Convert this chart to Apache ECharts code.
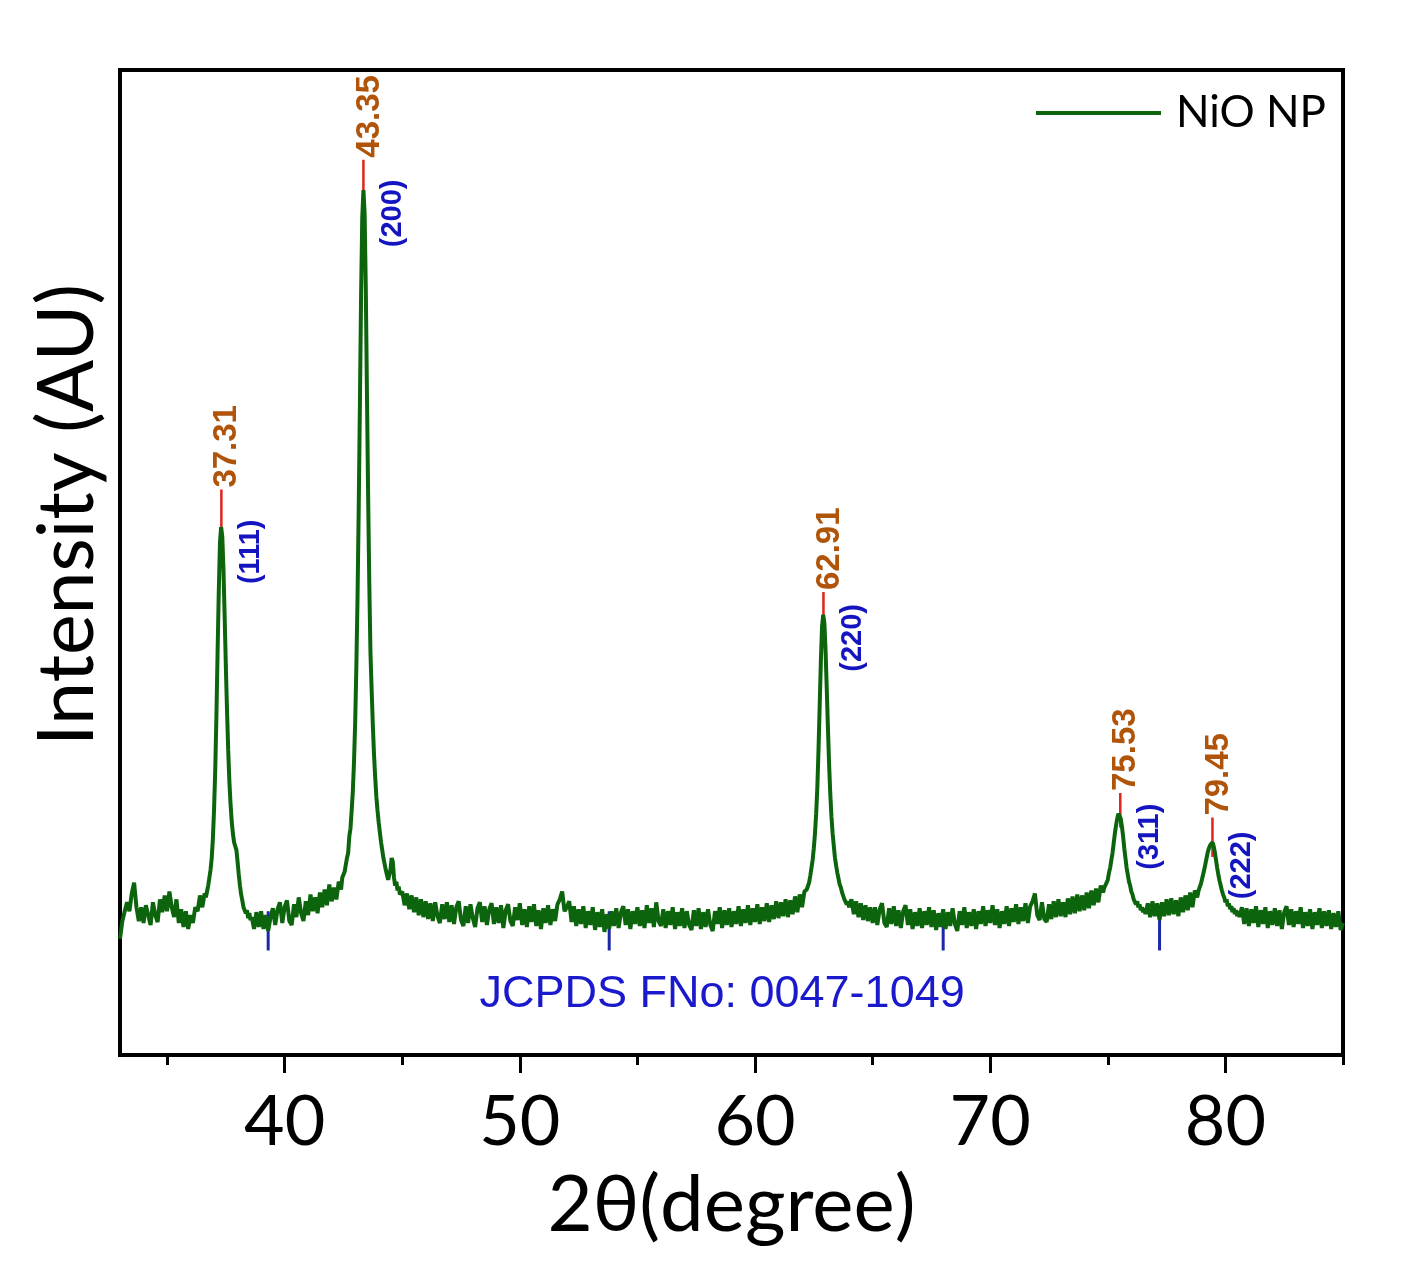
<!DOCTYPE html>
<html lang="en">
  <head>
    <meta charset="UTF-8" />
    <title>NiO NP XRD</title>
    <style>
      body, html {
        margin: 0;
        width: 100%;
        height: 100%;
        background: #fff;
      }
    </style>
  </head>
  <body>
    <div id="main" style="width:1402px;height:1269px;"></div>

    <script src="https://cdn.jsdelivr.net/npm/echarts@6/dist/echarts.min.js"></script>
    <script>
      // scan pieces: intensity (arbitrary units, 0..1000)
      // 33.0 -> 36.6, step 0.1
      const bgA = [118, 136, 146, 155, 146, 164, 175, 150, 136, 150,
        134, 152, 142, 132, 155, 142, 135, 158, 145, 162,
        146, 166, 150, 140, 158, 134, 148, 130, 146, 128,
        142, 134, 150, 146, 162, 150, 164];
      // 36.65 -> 38.55, step 0.05
      const peak111 = [160, 166, 172, 180, 188, 200, 220, 250, 290, 345,
        410, 470, 520, 536, 526, 492, 445, 395, 350, 310,
        278, 255, 237, 225, 216, 214, 208, 196, 183, 172,
        163, 157, 150, 152, 144, 147, 139, 144, 137];
      // 38.6 -> 42.4, step 0.1
      const bgB = [140, 128, 145, 130, 146, 128, 142, 126, 140, 149,
        132, 148, 155, 134, 150, 157, 136, 132, 153, 140,
        160, 144, 136, 156, 142, 163, 146, 160, 144, 165,
        150, 168, 152, 173, 156, 170, 158, 176, 168];
      // 42.45 -> 44.9, step 0.05
      const peak200 = [180, 178, 186, 188, 200, 205, 222, 230, 248, 268,
        298, 338, 395, 465, 555, 660, 770, 850, 878, 855,
        780, 672, 568, 478, 408, 370, 335, 305, 282, 262,
        248, 236, 226, 216, 208, 200, 194, 188, 183, 178,
        180, 188, 200, 196, 180, 172, 176, 167, 171, 163];
      // 45.0 -> 62.2, step 0.1
      const bgC = [166, 152, 164, 148, 162, 145, 160, 142, 158, 140,
        156, 138, 154, 136, 155, 141, 134, 153, 138, 155,
        135, 152, 133, 150, 156, 137, 131, 151, 134, 153,
        139, 130, 149, 155, 135, 151, 132, 148, 154, 133,
        150, 134, 152, 129, 147, 153, 136, 131, 150, 137,
        154, 132, 148, 130, 151, 135, 153, 131, 147, 128,
        149, 134, 152, 132, 148, 136, 153, 158, 166, 146,
        150, 156, 135, 151, 131, 148, 133, 151, 129, 146,
        132, 150, 127, 145, 130, 148, 125, 143, 128, 146,
        131, 149, 129, 145, 151, 132, 148, 128, 146, 133,
        150, 131, 147, 129, 152, 134, 149, 130, 155, 136,
        131, 148, 129, 146, 132, 150, 128, 145, 131, 149,
        129, 146, 132, 127, 147, 131, 149, 128, 145, 130,
        148, 132, 126, 146, 133, 150, 129, 147, 132, 149,
        130, 146, 133, 151, 131, 148, 134, 152, 132, 149,
        135, 153, 133, 150, 136, 154, 135, 152, 138, 156,
        139, 155, 141, 158, 140, 157, 143, 161, 145, 163,
        150, 166, 168];
      // 62.25 -> 64.0, step 0.05
      const peak220 = [170, 175, 182, 190, 198, 210, 225, 245, 272, 310,
        355, 400, 435, 447, 438, 410, 372, 332, 295, 265,
        242, 225, 212, 200, 192, 185, 179, 173, 170, 165,
        163, 158, 160, 153, 156, 150];
      // 64.1 -> 74.8, step 0.1
      const bgD = [158, 143, 156, 140, 154, 137, 152, 136, 150, 134,
        150, 132, 148, 154, 134, 130, 149, 133, 151, 131,
        147, 129, 146, 152, 132, 148, 128, 145, 131, 149,
        129, 146, 132, 150, 130, 147, 127, 144, 130, 148,
        128, 145, 131, 149, 133, 126, 146, 132, 150, 129,
        145, 131, 148, 128, 146, 133, 151, 131, 147, 134,
        152, 132, 148, 129, 146, 133, 151, 131, 149, 135,
        153, 133, 150, 136, 154, 134, 151, 156, 164, 142,
        137, 155, 138, 135, 153, 138, 156, 140, 158, 141,
        155, 140, 159, 143, 161, 144, 163, 146, 162, 147,
        165, 149, 167, 152, 169, 155, 172, 165];
      // 74.85 -> 76.6, step 0.05
      const peak311 = [170, 168, 175, 178, 185, 190, 198, 205, 215, 225,
        233, 240, 245, 243, 240, 232, 222, 210, 200, 190,
        183, 176, 172, 166, 163, 158, 160, 153, 156, 150,
        153, 147, 150, 145, 149, 143];
      // 76.7 -> 78.8, step 0.1
      const bgE = [154, 140, 156, 141, 154, 137, 155, 141, 158, 142,
        159, 143, 157, 141, 160, 145, 162, 147, 165, 150,
        167, 160];
      // 78.85 -> 80.6, step 0.05
      const peak222 = [166, 170, 173, 178, 183, 188, 194, 200, 206, 210,
        213, 215, 216, 212, 206, 198, 190, 183, 177, 172,
        167, 163, 160, 155, 158, 151, 154, 148, 151, 145,
        149, 143, 147, 141, 146, 140];
      // 80.7 -> 85.0, step 0.1
      const bgF = [150, 133, 149, 131, 148, 134, 151, 130, 147, 133,
        150, 129, 146, 132, 149, 131, 147, 128, 145, 151,
        132, 148, 130, 146, 133, 150, 129, 145, 131, 148,
        128, 145, 132, 149, 129, 146, 131, 147, 128, 144,
        130, 146, 127, 134];

      const segments = [
        [33.0, 0.1, bgA], [36.65, 0.05, peak111], [38.6, 0.1, bgB],
        [42.45, 0.05, peak200], [45.0, 0.1, bgC], [62.25, 0.05, peak220],
        [64.1, 0.1, bgD], [74.85, 0.05, peak311], [76.7, 0.1, bgE],
        [78.85, 0.05, peak222], [80.7, 0.1, bgF],
      ];

      const peakPos = [37.31, 43.35, 62.91, 75.53, 79.45];
      const peakTop = [536, 878, 447, 246, 216];
      const markerTop = [574, 909, 470, 266, 241];
      const hklLabels = ['(111)', '(200)', '(220)', '(311)', '(222)'];

      const refLines = [39.3, 53.8, 68.0, 77.2];
      const refSpan = [106, 146];
      const refText = 'JCPDS FNo: 0047-1049';
      const refTextPos = [58.6, 61];

      const majorTicks = [40, 50, 60, 70, 80];
      const minorTicks = [35, 45, 55, 65, 75, 85];

      const scan = [];
      segments.forEach(([start, step, values]) => {
        values.forEach((v, i) => scan.push([+(start + i * step).toFixed(2), v]));
      });

      const FONT = 'Lato, "Open Sans", sans-serif';
      const ARIAL = '"Liberation Sans", Arial, sans-serif';
      const chart = echarts.init(document.getElementById('main'));

      // invisible anchor points that only carry a label
      const labelAnchor = {
        type: 'scatter', symbolSize: 2, z: 5, silent: true,
        itemStyle: { color: 'rgba(0,0,0,0)', opacity: 1 },
      };

      const option = {
        animation: false,
        backgroundColor: '#fff',
        grid: {
          left: 120, top: 70, width: 1223, height: 985,
          show: true, borderColor: '#000', borderWidth: 4,
        },
        legend: {
          data: ['NiO NP'],
          left: 1031, top: 86,
          icon: 'rect', itemWidth: 125, itemHeight: 4,
          textStyle: { fontFamily: FONT, fontSize: 44, color: '#000', padding: [0, 0, 0, 10] },
        },
        xAxis: [
          {
            type: 'value', min: 33, max: 85, position: 'bottom',
            name: '2θ(degree)', nameLocation: 'middle', nameGap: 112,
            nameTextStyle: { fontFamily: FONT, fontSize: 78, color: '#000' },
            axisLine: { show: true, lineStyle: { color: '#000', width: 4 } },
            axisTick: { show: true, customValues: majorTicks, length: 18, lineStyle: { color: '#000', width: 3 } },
            axisLabel: { customValues: majorTicks, margin: 32, fontFamily: FONT, fontSize: 70, color: '#000' },
            splitLine: { show: false },
          },
          {
            type: 'value', min: 33, max: 85, position: 'bottom',
            axisLine: { show: false },
            axisTick: { show: true, customValues: minorTicks, length: 10, lineStyle: { color: '#000', width: 3 } },
            axisLabel: { show: false },
            splitLine: { show: false },
          },
        ],
        yAxis: {
          type: 'value', min: 0, max: 1000, show: false,
        },
        graphic: [{
          type: 'text', x: 68, y: 515, rotation: Math.PI / 2,
          style: {
            text: 'Intensity (AU)', font: '77px ' + FONT, fill: '#000',
            align: 'center', verticalAlign: 'middle',
          },
        }],
        series: [
          {
            name: 'NiO NP', type: 'line', data: scan, symbol: 'none', z: 4,
            color: '#0c650c',
            lineStyle: { color: '#0c650c', width: 4 },
            silent: true,
          },
          ...peakPos.map((p, i) => ({
            type: 'line', symbol: 'none', z: 3, silent: true,
            data: [[p, peakTop[i] - 15], [p, markerTop[i]]],
            lineStyle: { color: '#e0241c', width: 2.5 },
          })),
          ...refLines.map(r => ({
            type: 'line', symbol: 'none', z: 3, silent: true,
            data: [[r, refSpan[0]], [r, refSpan[1]]],
            lineStyle: { color: '#1c28a8', width: 3 },
          })),
          {
            ...labelAnchor,
            data: peakPos.map((p, i) => [p, markerTop[i]]),
            label: {
              show: true, rotate: 90, position: [7, -1], align: 'left', verticalAlign: 'middle',
              formatter: d => d.value[0].toFixed(2),
              fontFamily: ARIAL, fontWeight: 'bold', fontSize: 33, color: '#b0540a', opacity: 1,
            },
          },
          {
            ...labelAnchor,
            data: peakPos.map((p, i) => [p, peakTop[i]]),
            label: {
              show: true, rotate: 90, position: [31, 58], align: 'left', verticalAlign: 'middle',
              formatter: d => hklLabels[d.dataIndex],
              fontFamily: ARIAL, fontWeight: 'bold', fontSize: 29, color: '#1414c0', opacity: 1,
            },
          },
          {
            ...labelAnchor,
            data: [refTextPos],
            label: {
              show: true, position: 'inside', align: 'center', verticalAlign: 'middle',
              formatter: refText,
              fontFamily: ARIAL, fontSize: 45, color: '#1a1acc', opacity: 1,
            },
          },
        ],
      };

      chart.setOption(option);
    </script>
  </body>
</html>
